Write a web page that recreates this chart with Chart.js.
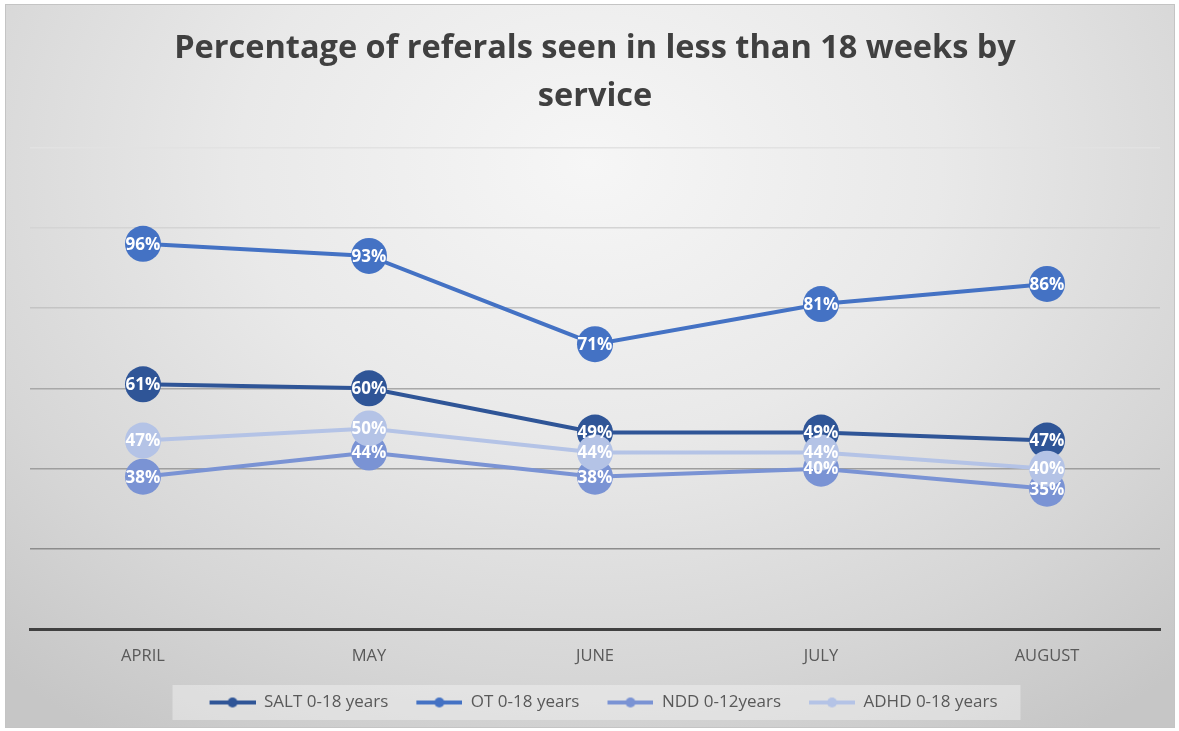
<!DOCTYPE html>
<html>
<head>
<meta charset="utf-8">
<script src="https://cdn.jsdelivr.net/npm/chart.js@4.4.0/dist/chart.umd.min.js"></script>
<style>
  html, body { margin: 0; padding: 0; background: #fff; }
  #frame {
    position: absolute; left: 5px; top: 4px; width: 1168px; height: 722px;
    border: 1px solid #c4c4c4;
    background: radial-gradient(ellipse 75% 95% at 50% 22%, #f6f6f6 0%, #e9e9e9 40%, #d6d6d6 75%, #c6c6c6 100%);
  }
  canvas { position: absolute; left: 0; top: 0; }
</style>
</head>
<body>
<div id="frame"></div>
<canvas id="myChart" width="1179" height="731"></canvas>
<script>
var months = ["APRIL", "MAY", "JUNE", "JULY", "AUGUST"];
var salt = [61, 60, 49, 49, 47];
var ot = [96, 93, 71, 81, 86];
var ndd = [38, 44, 38, 40, 35];
var adhd = [47, 50, 44, 44, 40];
var seriesNames = ["SALT 0-18 years", "OT 0-18 years", "NDD 0-12years", "ADHD 0-18 years"];
var seriesColors = ['#2f5597', '#4472c4', '#7a93d4', '#b4c3e6'];

var font = "'Open Sans', 'Liberation Sans', sans-serif";

// legend mark: blank lead space then line + dot
var markLead = 17;
function legendMark(color) {
    var c = document.createElement('canvas');
    c.width = 46 + markLead; c.height = 12;
    var g = c.getContext('2d');
    g.strokeStyle = color;
    g.lineWidth = 4;
    g.beginPath(); g.moveTo(markLead, 6); g.lineTo(markLead + 46, 6); g.stroke();
    g.fillStyle = color;
    g.beginPath(); g.arc(markLead + 23, 6, 5, 0, Math.PI * 2); g.fill();
    return c;
}

// white % labels on the markers
var pointLabels = {
    id: 'pointLabels',
    afterDatasetsDraw: function(chart) {
        var ctx = chart.ctx;
        ctx.save();
        ctx.font = "bold 17px " + font;
        ctx.fillStyle = '#ffffff';
        ctx.textAlign = 'center';
        ctx.textBaseline = 'middle';
        chart.data.datasets.forEach(function(ds, i) {
            chart.getDatasetMeta(i).data.forEach(function(pt, j) {
                ctx.fillText(ds.data[j] + '%', pt.x, pt.y + 1);
            });
        });
        ctx.restore();
    }
};

// light box behind the legend
var legendBox = {
    id: 'legendBox',
    beforeDraw: function(chart) {
        var boxes = chart.legend.legendHitBoxes;
        if (!boxes || !boxes.length) return;
        var l = boxes[0].left + markLead, r = boxes[boxes.length - 1].left + boxes[boxes.length - 1].width;
        var t = boxes[0].top, h = boxes[0].height;
        var ctx = chart.ctx;
        ctx.save();
        ctx.fillStyle = 'rgba(255,255,255,0.35)';
        ctx.fillRect(l - 37, t - 9, r - l + 60, h + 18);
        ctx.restore();
    }
};

function makeSet(i, data, order) {
    return {
        label: seriesNames[i],
        data: data,
        borderColor: seriesColors[i],
        backgroundColor: seriesColors[i],
        borderWidth: 4,
        pointRadius: 18,
        pointHoverRadius: 18,
        pointBorderWidth: 0,
        pointBackgroundColor: seriesColors[i],
        order: order,
        tension: 0
    };
}

var ctx = document.getElementById('myChart').getContext('2d');
var chart = new Chart(ctx, {
    type: 'line',
    data: {
        labels: months,
        datasets: [
            makeSet(0, salt, 4),
            makeSet(1, ot, 3),
            makeSet(2, ndd, 2),
            makeSet(3, adhd, 1)
        ]
    },
    plugins: [pointLabels, legendBox],
    options: {
        responsive: false,
        animation: false,
        layout: { padding: { left: 30, right: 19, top: 8, bottom: 10 } },
        plugins: {
            tooltip: { enabled: false },
            title: {
                display: true,
                text: ["Percentage of referals seen in less than 18 weeks by", "service"],
                color: '#404040',
                font: { family: font, size: 32.5, weight: 'bold', lineHeight: 1.5 },
                padding: { top: 16, bottom: 26 }
            },
            legend: {
                position: 'bottom',
                labels: {
                    color: '#595959',
                    font: { family: font, size: 17 },
                    usePointStyle: true,
                    pointStyleWidth: 46 + markLead,
                    boxHeight: 12,
                    padding: 11,
                    sort: function(a, b) { return a.datasetIndex - b.datasetIndex; },
                    generateLabels: function(chart) {
                        var items = Chart.defaults.plugins.legend.labels.generateLabels(chart);
                        items.forEach(function(it) {
                            it.pointStyle = legendMark(seriesColors[it.datasetIndex]);
                        });
                        return items;
                    }
                }
            }
        },
        scales: {
            x: {
                offset: true,
                grid: { display: false, drawTicks: false },
                border: { display: true, color: '#404040', width: 3 },
                ticks: { color: '#595959', font: { family: font, size: 16.5 }, padding: 17 }
            },
            y: {
                min: 0,
                max: 120,
                ticks: { display: false, stepSize: 20 },
                border: { display: false },
                grid: {
                    drawTicks: false,
                    lineWidth: 1.5,
                    color: ['#404040', '#8c8c8c', '#9e9e9e', '#a8a8a8', '#c4c4c4', '#d4d4d4', '#e2e2e2']
                }
            }
        }
    }
});
</script>
</body>
</html>
